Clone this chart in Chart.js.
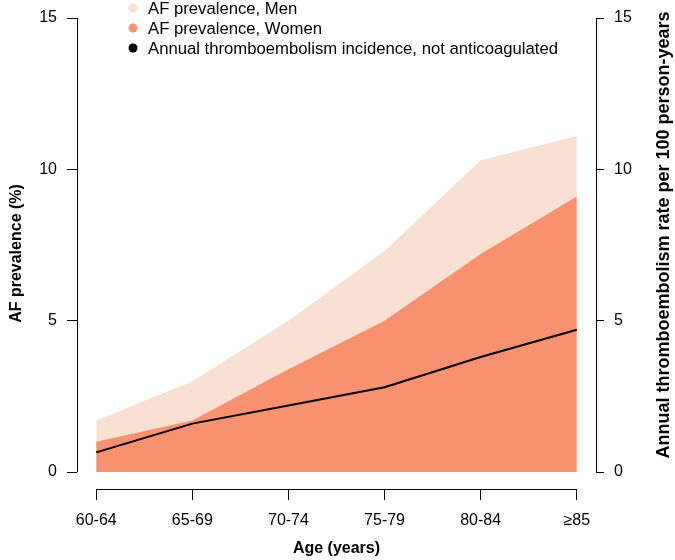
<!DOCTYPE html>
<html>
<head>
<meta charset="utf-8">
<script src="https://cdn.jsdelivr.net/npm/chart.js@4/dist/chart.umd.min.js"></script>
<style>
  html, body { margin: 0; padding: 0; background: #fff; }
  #wrap { width: 675px; height: 560px; }
</style>
</head>
<body>
<div id="wrap"><canvas id="chart"></canvas></div>
<script>
// data
const ageGroups = ["60-64", "65-69", "70-74", "75-79", "80-84", "≥85"];
const afMen = [1.7, 3.0, 5.0, 7.3, 10.3, 11.1];
const afWomen = [1.0, 1.7, 3.4, 5.0, 7.2, 9.1];
const teRate = [0.65, 1.6, 2.2, 2.8, 3.8, 4.7];
const yTicks = [0, 5, 10, 15];

const menColor = "#F8E0D2";
const womenColor = "#F79170";
const fontFam = "'Liberation Sans', Arial, Helvetica, sans-serif";

const pts = arr => arr.map((v, i) => ({ x: i, y: v }));

Chart.defaults.font.family = fontFam;
Chart.defaults.font.size = 16;
Chart.defaults.color = "#000";

// R style axes: lines only span first..last tick
const rAxes = {
  id: "rAxes",
  afterDraw(chart) {
    const { ctx, scales: { x, y, y2 } } = chart;
    ctx.save();
    ctx.strokeStyle = "#000";
    ctx.lineWidth = 1;
    ctx.beginPath();
    const lx = Math.round(y.right) + 0.5;
    ctx.moveTo(lx, y.getPixelForValue(yTicks[0]));
    ctx.lineTo(lx, y.getPixelForValue(yTicks[yTicks.length - 1]));
    const rx = Math.round(y2.left) + 0.5;
    ctx.moveTo(rx, y2.getPixelForValue(yTicks[0]));
    ctx.lineTo(rx, y2.getPixelForValue(yTicks[yTicks.length - 1]));
    const by = Math.round(x.top) + 0.5;
    ctx.moveTo(x.getPixelForValue(0), by);
    ctx.lineTo(x.getPixelForValue(ageGroups.length - 1), by);
    ctx.stroke();

    // right axis title, reading bottom to top
    ctx.fillStyle = "#000";
    ctx.font = "bold 18px " + fontFam;
    ctx.textAlign = "center";
    ctx.textBaseline = "middle";
    ctx.translate(664, 235);
    ctx.rotate(-Math.PI / 2);
    ctx.fillText("Annual thromboembolism rate per 100 person-years", 0, 0);
    ctx.restore();

    // legend
    ctx.save();
    ctx.font = "16.7px " + fontFam;
    ctx.textBaseline = "middle";
    ctx.textAlign = "left";
    const items = [
      [menColor, "AF prevalence, Men"],
      [womenColor, "AF prevalence, Women"],
      ["#000", "Annual thromboembolism incidence, not anticoagulated"]
    ];
    items.forEach((it, i) => {
      const cy = 8 + i * 20;
      ctx.fillStyle = it[0];
      ctx.beginPath();
      ctx.arc(133, cy, 4.5, 0, Math.PI * 2);
      ctx.fill();
      ctx.fillStyle = "#000";
      ctx.fillText(it[1], 148, cy + 1);
    });
    ctx.restore();
  }
};

new Chart(document.getElementById("chart"), {
  type: "line",
  data: {
    datasets: [
      {
        label: "Annual thromboembolism incidence, not anticoagulated",
        data: pts(teRate),
        yAxisID: "y2",
        borderColor: "#000",
        borderWidth: 2,
        pointRadius: 0,
        fill: false,
        order: 0
      },
      {
        label: "AF prevalence, Women",
        data: pts(afWomen),
        yAxisID: "y",
        borderWidth: 0,
        borderColor: womenColor,
        backgroundColor: womenColor,
        pointRadius: 0,
        fill: "origin",
        order: 1
      },
      {
        label: "AF prevalence, Men",
        data: pts(afMen),
        yAxisID: "y",
        borderWidth: 0,
        borderColor: menColor,
        backgroundColor: menColor,
        pointRadius: 0,
        fill: "origin",
        order: 2
      }
    ]
  },
  options: {
    responsive: true,
    maintainAspectRatio: false,
    animation: false,
    layout: { padding: { top: 8, left: 0, right: 0, bottom: 0 } },
    plugins: {
      legend: { display: false },
      tooltip: { enabled: false }
    },
    elements: { line: { tension: 0 } },
    scales: {
      x: {
        type: "linear",
        min: -0.2,
        max: 5.2,
        afterFit: s => { s.height = 71; },
        border: { display: false },
        grid: { drawOnChartArea: false, drawTicks: true, tickLength: 11, color: "#000" },
        ticks: {
          stepSize: 1,
          includeBounds: false,
          padding: 11,
          maxRotation: 0,
          callback: v => ageGroups[v]
        },
        title: { display: true, text: "Age (years)", font: { weight: "bold", size: 16 }, padding: { top: 0, bottom: 2 } }
      },
      y: {
        position: "left",
        min: -0.56,
        max: 15,
        afterFit: s => { s.width = 77; },
        border: { display: false },
        grid: { drawOnChartArea: false, drawTicks: true, tickLength: 10, color: "#000" },
        ticks: { stepSize: 5, includeBounds: false, padding: 10, font: { lineHeight: 1 } },
        title: { display: true, text: "AF prevalence (%)", font: { weight: "bold", size: 16 }, padding: { top: 7, bottom: 0 } }
      },
      y2: {
        position: "right",
        min: -0.56,
        max: 15,
        afterFit: s => { s.width = 79; },
        border: { display: false },
        grid: { drawOnChartArea: false, drawTicks: true, tickLength: 8, color: "#000" },
        ticks: { stepSize: 5, includeBounds: false, padding: 10, font: { lineHeight: 1 } }
      }
    }
  },
  plugins: [rAxes]
});
</script>
</body>
</html>
